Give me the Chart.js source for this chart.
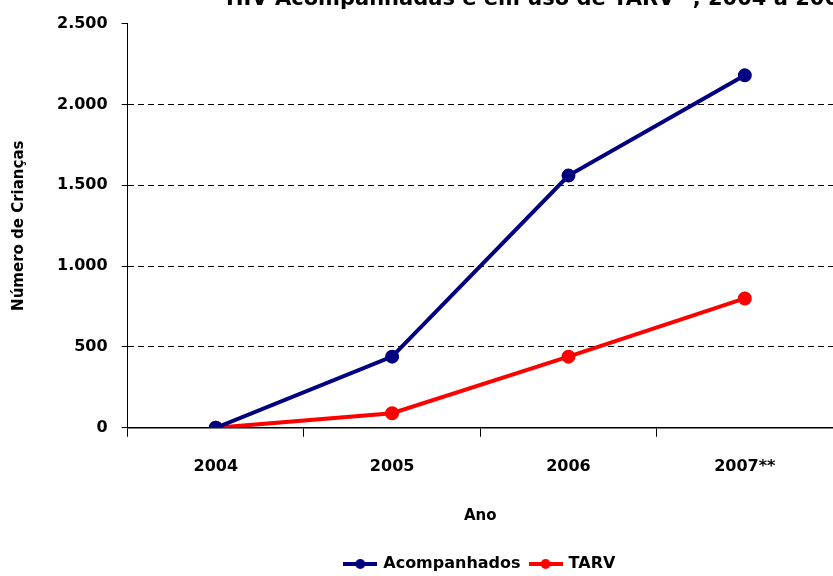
<!DOCTYPE html>
<html lang="pt">
<head>
    <meta charset="UTF-8">
    <title>Crianças Acompanhadas e em uso de TARV</title>
    <script src="https://cdn.jsdelivr.net/npm/chart.js"></script>
    <style>
        html, body { margin: 0; padding: 0; background: #fff; overflow: hidden; }
        #wrap { width: 833px; height: 576px; position: relative; }
        canvas { display: block; }
    </style>
</head>
<body>
    <div id="wrap"><canvas id="grafico"></canvas></div>
    <script>
        // dados
        const anos = ['2004', '2005', '2006', '2007**'];
        const acompanhados = [0, 440, 1560, 2180];
        const tarv = [0, 90, 440, 800];
        const yTicks = [0, 500, 1000, 1500, 2000, 2500];
        const titulo = 'HIV Acompanhadas e em uso de TARV* , 2004 a 2007';

        const fonte = "'DejaVu Sans', sans-serif";

        function formatar(v) {
            return String(v).replace(/\B(?=(\d{3})+(?!\d))/g, '.');
        }

        // pequeno ícone de legenda: linha com ponto no meio
        function iconeLegenda(cor) {
            const c = document.createElement('canvas');
            c.width = 34; c.height = 12;
            const g = c.getContext('2d');
            g.strokeStyle = cor; g.lineWidth = 4;
            g.beginPath(); g.moveTo(0, 6); g.lineTo(34, 6); g.stroke();
            g.fillStyle = cor;
            g.beginPath(); g.arc(17, 6, 5, 0, Math.PI * 2); g.fill();
            return c;
        }

        // título cortado no topo, como no original
        const tituloCortado = {
            id: 'tituloCortado',
            afterDraw(chart) {
                const ctx = chart.ctx;
                ctx.save();
                ctx.font = "bold 21px " + fonte;
                ctx.fillStyle = '#000';
                ctx.textBaseline = 'alphabetic';
                ctx.fillText(titulo, 226, 5);
                ctx.restore();
            }
        };

        // legenda centrada sob a área do gráfico
        const legendaNaArea = {
            id: 'legendaNaArea',
            afterLayout(chart) {
                chart.legend.left = chart.chartArea.left;
                chart.legend.right = chart.chartArea.right;
            }
        };

        const ctx = document.getElementById('grafico').getContext('2d');
        const grafico = new Chart(ctx, {
            type: 'line',
            data: {
                labels: anos,
                datasets: [
                    {
                        label: 'Acompanhados',
                        data: acompanhados,
                        borderColor: '#000080',
                        backgroundColor: '#000080',
                        borderWidth: 4,
                        pointRadius: 5,
                        pointHoverRadius: 5,
                        tension: 0
                    },
                    {
                        label: 'TARV',
                        data: tarv,
                        borderColor: '#ff0000',
                        backgroundColor: '#ff0000',
                        borderWidth: 4,
                        pointRadius: 5,
                        pointHoverRadius: 5,
                        tension: 0
                    }
                ]
            },
            options: {
                responsive: true,
                maintainAspectRatio: false,
                animation: false,
                layout: { autoPadding: false, padding: { top: 22, right: 0, left: 10, bottom: -6 } },
                plugins: {
                    tooltip: { enabled: false },
                    legend: {
                        position: 'bottom',
                        labels: {
                            usePointStyle: true,
                            pointStyleWidth: 30,
                            color: '#000',
                            padding: 10,
                            font: { family: fonte, size: 16, weight: 'bold' },
                            generateLabels(chart) {
                                return chart.data.datasets.map((ds, i) => ({
                                    text: ds.label,
                                    fillStyle: ds.borderColor,
                                    strokeStyle: ds.borderColor,
                                    pointStyle: iconeLegenda(ds.borderColor),
                                    fontColor: '#000',
                                    lineWidth: 0,
                                    hidden: false,
                                    datasetIndex: i
                                }));
                            }
                        }
                    }
                },
                scales: {
                    x: {
                        offset: true,
                        grid: {
                            offset: true,
                            drawOnChartArea: false,
                            drawTicks: true,
                            tickLength: 9,
                            tickColor: '#000',
                            tickWidth: 1
                        },
                        border: { color: '#000', width: 1.5 },
                        ticks: {
                            color: '#000',
                            padding: 20,
                            font: { family: fonte, size: 16, weight: 'bold' }
                        },
                        title: {
                            display: true,
                            text: 'Ano',
                            color: '#000',
                            padding: { top: 11, bottom: 21 },
                            font: { family: fonte, size: 15, weight: 'bold' }
                        }
                    },
                    y: {
                        min: 0,
                        max: 2500,
                        afterBuildTicks(scale) {
                            scale.ticks = yTicks.map(v => ({ value: v }));
                        },
                        grid: {
                            color(c) {
                                const v = c.tick ? c.tick.value : null;
                                return (v === 0 || v === 2500) ? 'rgba(0,0,0,0)' : '#000';
                            },
                            lineWidth: 1,
                            tickLength: 6,
                            tickColor: '#000'
                        },
                        border: { color: '#000', width: 1, dash: [6, 4] },
                        ticks: {
                            color: '#000',
                            padding: 14,
                            font: { family: fonte, size: 16, weight: 'bold' },
                            callback: v => formatar(v)
                        },
                        title: {
                            display: true,
                            text: 'Número de Crianças',
                            color: '#000',
                            padding: { top: 0, bottom: 15 },
                            font: { family: fonte, size: 15, weight: 'bold' }
                        }
                    }
                }
            },
            plugins: [tituloCortado, legendaNaArea]
        });
    </script>
</body>
</html>
